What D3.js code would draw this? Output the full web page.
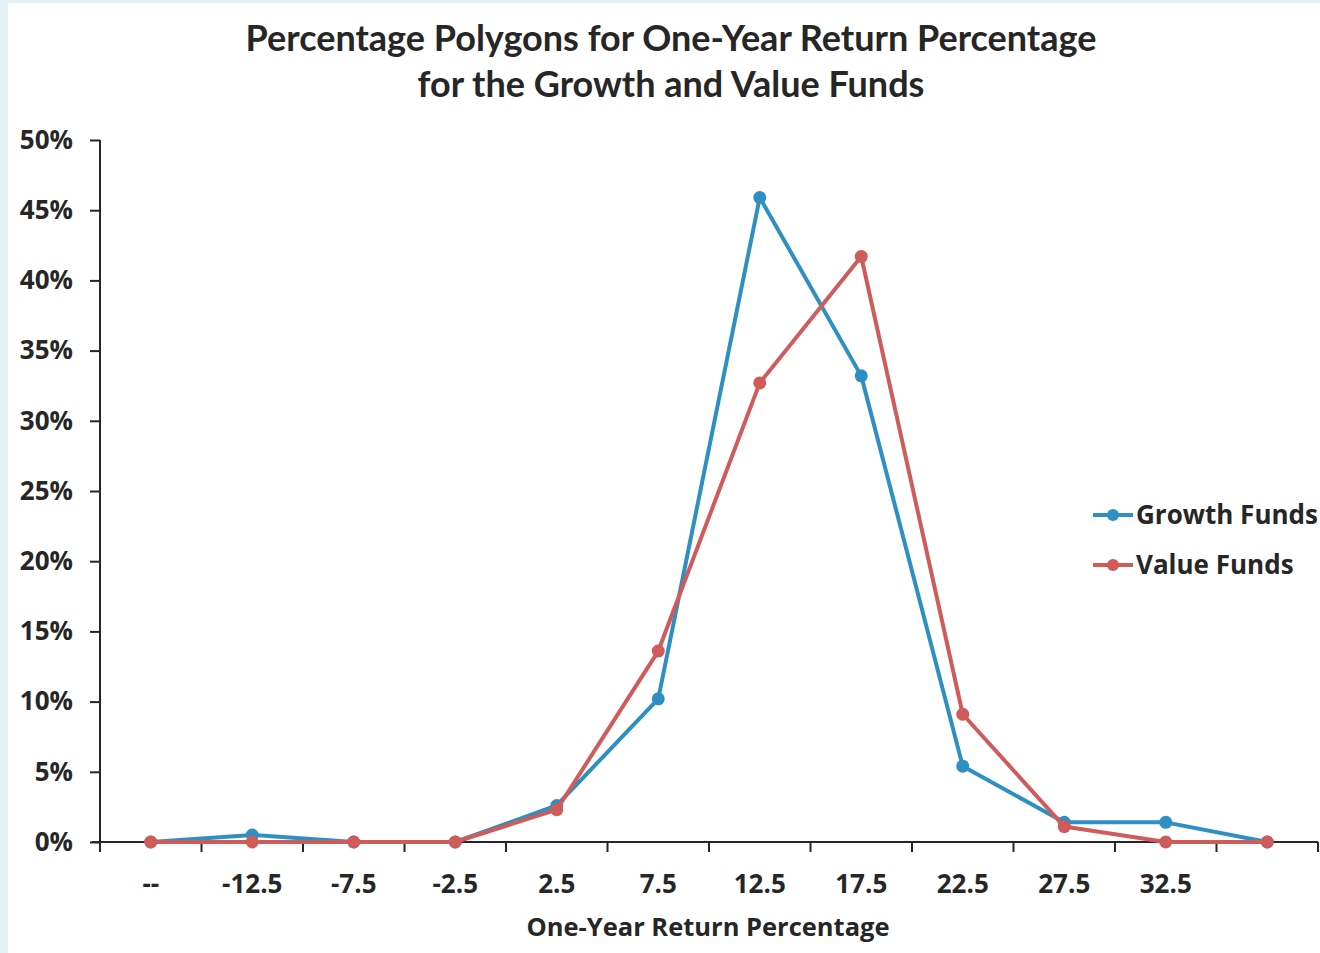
<!DOCTYPE html>
<html>
<head>
<meta charset="utf-8">
<script src="https://cdn.jsdelivr.net/npm/d3@7"></script>
<style>
  html, body { margin: 0; padding: 0; background: #e4f2f5; }
  svg { display: block; }
</style>
</head>
<body>
<svg id="chart" width="1320" height="953"></svg>
<script>
// Midpoints of the one-year return classes (first and last are the empty end classes)
const categories = ["--", "-12.5", "-7.5", "-2.5", "2.5", "7.5", "12.5", "17.5", "22.5", "27.5", "32.5", ""];
// Percentage of funds in each class
const growthFunds = [0.0, 0.5, 0.0, 0.0, 2.6, 10.2, 45.9, 33.2, 5.4, 1.4, 1.4, 0.0];
const valueFunds  = [0.0, 0.0, 0.0, 0.0, 2.3, 13.6, 32.7, 41.7, 9.1, 1.1, 0.0, 0.0];
const yTicks = [0, 5, 10, 15, 20, 25, 30, 35, 40, 45, 50];

const series = [
  { name: "Growth Funds", values: growthFunds, color: "#2e8fc2" },
  { name: "Value Funds",  values: valueFunds,  color: "#d05b5b" }
];

const svg = d3.select("#chart");
const font = "'Open Sans', sans-serif";
const ink = "#262626";

// white panel with thin tinted margin on the left and top
svg.append("rect").attr("x", 8).attr("y", 3).attr("width", 1312).attr("height", 950).attr("fill", "#ffffff");

const plotLeft = 100, plotRight = 1318, plotTop = 140, plotBottom = 842;

const x = d3.scaleBand().domain(categories).range([plotLeft, plotRight]).padding(0);
const y = d3.scaleLinear().domain([0, 50]).range([plotBottom, plotTop]);
const cx = c => x(c) + x.bandwidth() / 2;

// Title
svg.append("text").attr("x", 671).attr("y", 51).attr("text-anchor", "middle")
  .attr("font-family", "Lato, sans-serif").attr("font-weight", 700).attr("font-size", 36)
  .attr("fill", ink).text("Percentage Polygons for One-Year Return Percentage");
svg.append("text").attr("x", 671).attr("y", 97).attr("text-anchor", "middle")
  .attr("font-family", "Lato, sans-serif").attr("font-weight", 700).attr("font-size", 36)
  .attr("fill", ink).text("for the Growth and Value Funds");

// Y axis
const yAxis = d3.axisLeft(y).tickValues(yTicks).tickFormat(d => d + "%").tickSize(10).tickPadding(17);
const yg = svg.append("g").attr("transform", `translate(${plotLeft},0)`).call(yAxis);
yg.select(".domain").remove();
yg.append("line").attr("x1", 0).attr("x2", 0).attr("y1", plotTop).attr("y2", plotBottom + 10)
  .attr("stroke", ink).attr("stroke-width", 2);
yg.selectAll(".tick line").attr("stroke", ink).attr("stroke-width", 2);
yg.selectAll(".tick text").attr("font-family", font).attr("font-weight", 700)
  .attr("font-size", 26).attr("fill", ink);

// X axis: ticks at band boundaries, labels at band centres
const xg = svg.append("g").attr("transform", `translate(0,${plotBottom})`);
xg.append("line").attr("x1", plotLeft - 8).attr("x2", plotRight).attr("y1", 0).attr("y2", 0)
  .attr("stroke", ink).attr("stroke-width", 2);
const boundaries = categories.map(c => x(c)).concat([x(categories[categories.length - 1]) + x.bandwidth()]);
xg.selectAll("line.tk").data(boundaries.slice(1)).join("line").attr("class", "tk")
  .attr("x1", d => d).attr("x2", d => d).attr("y1", 0).attr("y2", 10)
  .attr("stroke", ink).attr("stroke-width", 2);
xg.selectAll("text.lbl").data(categories).join("text").attr("class", "lbl")
  .attr("x", d => cx(d)).attr("y", 51).attr("text-anchor", "middle")
  .attr("font-family", font).attr("font-weight", 700).attr("font-size", 26).attr("fill", ink)
  .text(d => d);

// X axis title
svg.append("text").attr("x", 708).attr("y", 936).attr("text-anchor", "middle")
  .attr("font-family", font).attr("font-weight", 700).attr("font-size", 25.5).attr("fill", ink)
  .text("One-Year Return Percentage");

// Lines and markers
const line = d3.line().x((d, i) => cx(categories[i])).y(d => y(d));
series.forEach(s => {
  const g = svg.append("g");
  g.append("path").datum(s.values).attr("d", line).attr("fill", "none")
    .attr("stroke", s.color).attr("stroke-width", 4).attr("stroke-linejoin", "round");
  g.selectAll("circle").data(s.values).join("circle")
    .attr("cx", (d, i) => cx(categories[i])).attr("cy", d => y(d))
    .attr("r", 6.5).attr("fill", s.color);
});

// Legend
const legend = svg.append("g");
series.forEach((s, i) => {
  const ly = 515 + i * 50;
  legend.append("line").attr("x1", 1093).attr("x2", 1133).attr("y1", ly).attr("y2", ly)
    .attr("stroke", s.color).attr("stroke-width", 4);
  legend.append("circle").attr("cx", 1113).attr("cy", ly).attr("r", 6).attr("fill", s.color);
  legend.append("text").attr("x", 1136).attr("y", ly + 9).attr("font-family", font)
    .attr("font-weight", 700).attr("font-size", 26).attr("fill", ink).text(s.name);
});
</script>
</body>
</html>
